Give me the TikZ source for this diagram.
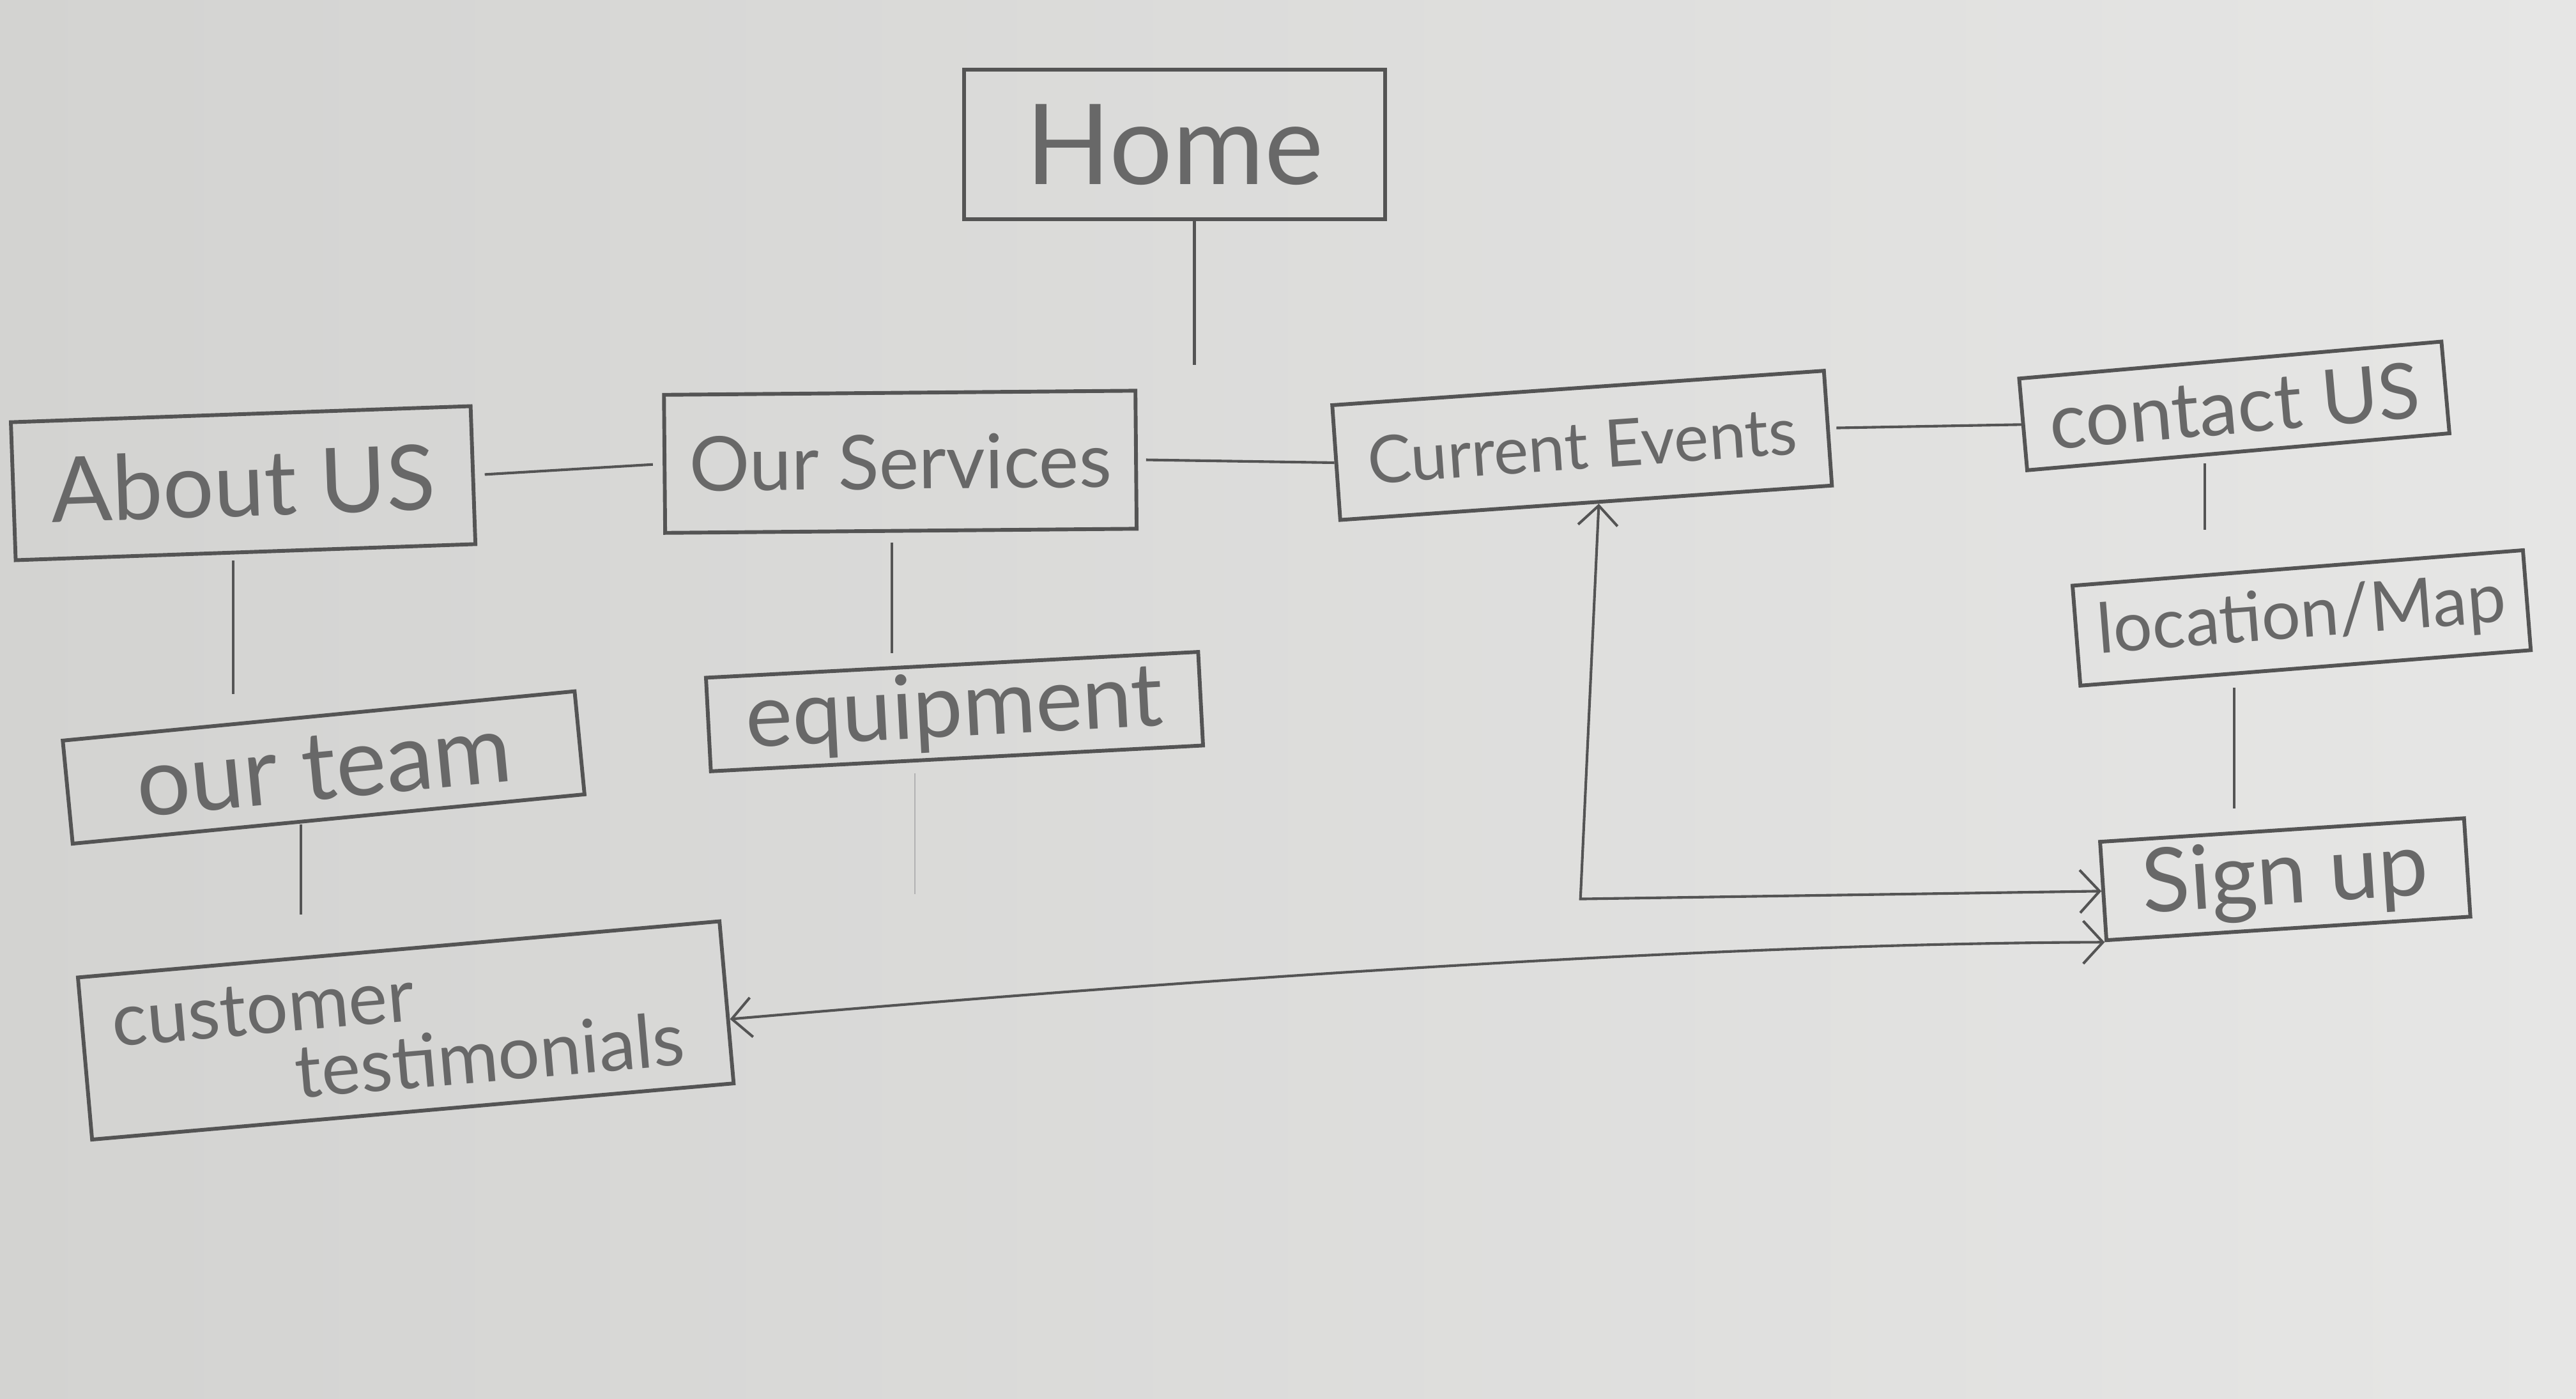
\documentclass[tikz,border=0pt]{standalone}
\usepackage{fontspec}
\setmainfont{Lato}
\usetikzlibrary{arrows.meta}
\definecolor{paperL}{RGB}{211,211,209}
\definecolor{paperR}{RGB}{230,230,229}
\definecolor{pencil}{RGB}{84,84,84}
\definecolor{lead}{RGB}{104,104,104}
\newcommand\fs[1]{\fontsize{#1}{#1}\selectfont}
\begin{document}
\begin{tikzpicture}[x=1pt,y=-1pt,
  box/.style={draw=pencil, line width=2.3pt, rectangle, inner sep=0pt, text=lead, align=center},
  link/.style={draw=pencil, line width=1.6pt},
  faint/.style={draw=pencil!45, line width=0.8pt},
  arr/.style={link, {Straight Barb[length=12pt,width=24pt,line width=1.6pt]}-{Straight Barb[length=12pt,width=26pt,line width=1.6pt]}},
]
% paper
\shade[left color=paperL, right color=paperR] (0,0) rectangle (1568,851);
\useasboundingbox (0,0) rectangle (1568,851);

% pages
\node[box, minimum width=256pt, minimum height=91pt, font=\fs{68}] (home) at (715,88) {Home};
\node[box, minimum width=280pt, minimum height=84pt, rotate=2, font=\fs{55}] (about) at (148,294) {About US};
\node[box, minimum width=287pt, minimum height=84pt, rotate=0.5, font=\fs{46}] (services) at (548,281) {Our Services};
\node[box, minimum width=300pt, minimum height=70pt, rotate=4, font=\fs{40}] (events) at (963,271) {Current Events};
\node[box, minimum width=258pt, minimum height=56pt, rotate=5, font=\fs{47}] (contact) at (1360,247) {contact US};
\node[box, minimum width=275pt, minimum height=61pt, rotate=4.5, font=\fs{42}] (location) at (1401,376) {location/Map};
\node[box, minimum width=222pt, minimum height=60pt, rotate=3.7, font=\fs{54}] (signup) at (1391,535) {Sign up};
\node[box, minimum width=300pt, minimum height=57pt, rotate=3, font=\fs{54}] (equipment) at (581,433) {equipment};
\node[box, minimum width=313pt, minimum height=63pt, rotate=5.5, font=\fs{58}] (team) at (197,467) {our team};
\node[box, minimum width=392pt, minimum height=99pt, rotate=5, font=\fs{45}] (testimonials) at (247,627)
  {customer\hspace*{3.8em}\\[-4pt]\hspace*{2.2em}testimonials};

% free ends of the open strokes
\coordinate (homeend) at (727,222);
\coordinate (eqend) at (557,544);
\coordinate (corner) at (962,547);

% tree links
\draw[link] (homeend |- home.south) -- (homeend);
\draw[link, shorten <=6pt, shorten >=6pt] (about.east) -- (services.west);
\draw[link, shorten <=5pt] (services.east) -- (events.west);
\draw[link, shorten <=4pt] (events.east) -- (contact.west);
\draw[link, shorten <=6pt, shorten >=22pt] (1342,0 |- contact.south) -- (1342,0 |- location.north);
\draw[link, shorten <=11pt, shorten >=12pt] (1360,0 |- location.south) -- (1360,0 |- signup.north);
\draw[link, shorten <=4pt, shorten >=12pt] (142,0 |- about.south) -- (142,0 |- team.north);
\draw[link, shorten <=2pt, shorten >=20pt] (183,0 |- team.south) -- (183,0 |- testimonials.north);
\draw[link, shorten <=6pt, shorten >=6pt] (543,0 |- services.south) -- (543,0 |- equipment.north);
\draw[faint, shorten <=8pt] (eqend |- equipment.south) -- (eqend);

% cross links
\draw[arr] (events.-78) -- (corner) -- (signup.west);
\draw[arr] (testimonials.-3) .. controls (760,593) and (1060,574) .. (signup.south west);
\end{tikzpicture}
\end{document}
